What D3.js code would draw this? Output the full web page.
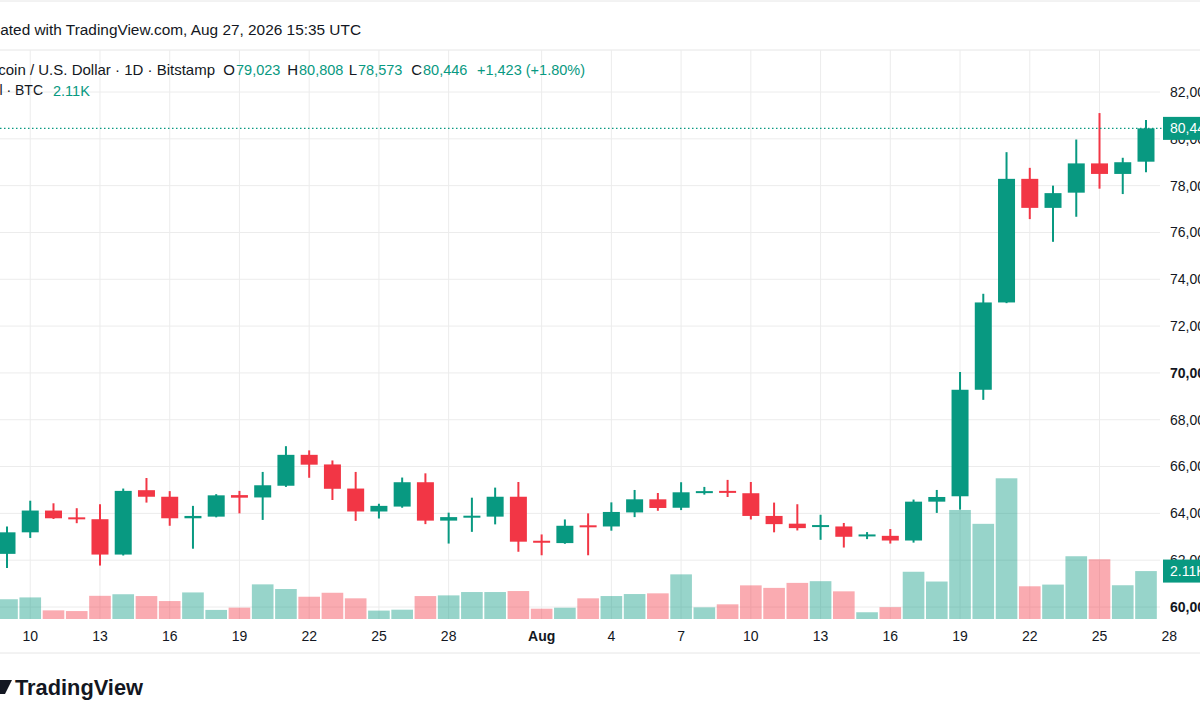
<!DOCTYPE html>
<html>
<head>
<meta charset="utf-8">
<script src="https://cdn.jsdelivr.net/npm/d3@7"></script>
<style>
  body { margin: 0; background: #fff; }
  svg { display: block; font-family: "Liberation Sans", Arial, sans-serif; }
</style>
</head>
<body>
<svg id="chart" width="1200" height="720"></svg>
<script>
// BTC/USD daily candles, Bitstamp
const dates = [
  "2026-07-09","2026-07-10","2026-07-11","2026-07-12","2026-07-13","2026-07-14","2026-07-15",
  "2026-07-16","2026-07-17","2026-07-18","2026-07-19","2026-07-20","2026-07-21","2026-07-22",
  "2026-07-23","2026-07-24","2026-07-25","2026-07-26","2026-07-27","2026-07-28","2026-07-29",
  "2026-07-30","2026-07-31","2026-08-01","2026-08-02","2026-08-03","2026-08-04","2026-08-05",
  "2026-08-06","2026-08-07","2026-08-08","2026-08-09","2026-08-10","2026-08-11","2026-08-12",
  "2026-08-13","2026-08-14","2026-08-15","2026-08-16","2026-08-17","2026-08-18","2026-08-19",
  "2026-08-20","2026-08-21","2026-08-22","2026-08-23","2026-08-24","2026-08-25","2026-08-26",
  "2026-08-27"
];
const opens = [
  62270,63190,64120,63830,63750,62240,64990,64710,63790,63860,64780,64680,65180,66500,
  66090,65060,64080,64290,65330,63690,63860,63860,64710,62830,62730,63490,63440,64040,
  64600,64240,64900,64960,64860,63890,63560,63460,63440,63060,63040,62840,64500,64730,
  69280,73010,78290,77050,77700,78950,78500,79023
];
const highs = [
  63440,64540,64430,64220,64390,65060,65510,64950,64320,64820,64960,65770,66870,66690,
  66260,65770,64410,65530,65710,64030,64670,65100,65340,63100,63740,64000,64470,65000,
  64870,65330,65130,65430,65340,64460,64390,63940,63590,63200,63330,64590,65000,70040,
  73380,79430,78760,78000,79970,81100,79190,80808
];
const lows = [
  61670,62950,63760,63580,61770,62200,64460,63470,62490,63830,64000,63720,65130,65520,
  64570,63680,63780,64240,63540,62710,63210,63530,62360,62210,62700,62210,63260,63840,
  64110,64140,64800,64700,63740,63190,63270,62870,62540,62900,62710,62750,64020,64160,
  68850,72980,76570,75600,76670,77870,77640,78573
];
const closes = [
  63190,64120,63790,63790,62240,64960,64710,63790,63890,64770,64670,65200,66500,66080,
  65050,64080,64320,65330,63690,63840,63900,64710,62790,62790,63470,63460,64060,64600,
  64230,64900,64950,64920,63890,63540,63370,63500,63000,63100,62840,64500,64700,69280,
  73010,78290,77050,77680,78950,78500,79000,80446
];
const volumes = [
  870,950,380,350,1020,1090,1010,790,1170,400,500,1525,1320,980,
  1155,910,370,410,1010,1040,1187,1187,1231,453,497,910,1011,1099,
  1130,1965,514,646,1481,1370,1590,1665,1218,297,520,2080,1650,4800,
  4190,6195,1440,1515,2763,2630,1486,2110
];

const priceTicks = [60000,62000,64000,66000,68000,70000,72000,74000,76000,78000,80000,82000];
const dateTicks = [
  "2026-07-10","2026-07-13","2026-07-16","2026-07-19","2026-07-22","2026-07-25","2026-07-28",
  "2026-08-01","2026-08-04","2026-08-07","2026-08-10","2026-08-13","2026-08-16","2026-08-19",
  "2026-08-22","2026-08-25","2026-08-28"
];

const UP = "#089981";
const DOWN = "#f23645";
const TEXT = "#131722";
const GRID = "#ececec";

const parse = d3.utcParse("%Y-%m-%d");
const bars = dates.map((d, i) => ({
  date: parse(d), o: opens[i], h: highs[i], l: lows[i], c: closes[i], v: volumes[i]
}));

const svg = d3.select("#chart");
const W = 1200, H = 720;
const plotRight = 1160;
const volBase = 619;

svg.append("rect").attr("width", W).attr("height", H).attr("fill", "#fff");

// Scales
const x = d3.scaleUtc()
  .domain([bars[0].date, bars[bars.length - 1].date])
  .range([7, 1146]);

const y = d3.scaleLinear()
  .domain([60000, 82000])
  .range([607, 92]);

const yVol = d3.scaleLinear()
  .domain([0, 7000])
  .range([volBase, 460]);

const step = x(bars[1].date) - x(bars[0].date);

// Frame lines
[1, 50, 653].forEach(ly => {
  svg.append("line")
    .attr("x1", 0).attr("x2", W)
    .attr("y1", ly).attr("y2", ly)
    .attr("stroke", "#e6e6e6");
});

// Grid
const tickDates = dateTicks.map(parse);
svg.append("g")
  .selectAll("line")
  .data(tickDates.filter(d => x(d) < plotRight))
  .join("line")
  .attr("x1", d => x(d)).attr("x2", d => x(d))
  .attr("y1", 50).attr("y2", volBase)
  .attr("stroke", GRID);

svg.append("g")
  .selectAll("line")
  .data(priceTicks)
  .join("line")
  .attr("x1", 0).attr("x2", plotRight)
  .attr("y1", d => y(d)).attr("y2", d => y(d))
  .attr("stroke", GRID);

// Volume
svg.append("g")
  .selectAll("rect")
  .data(bars)
  .join("rect")
  .attr("x", d => x(d.date) - step / 2 + 0.8)
  .attr("width", step - 1.6)
  .attr("y", d => yVol(d.v))
  .attr("height", d => volBase - yVol(d.v))
  .attr("fill", d => d.c >= d.o ? UP : DOWN)
  .attr("fill-opacity", 0.42);

// Candles
const candle = svg.append("g")
  .selectAll("g")
  .data(bars)
  .join("g")
  .attr("fill", d => d.c >= d.o ? UP : DOWN)
  .attr("stroke", d => d.c >= d.o ? UP : DOWN);

candle.append("line")
  .attr("x1", d => x(d.date)).attr("x2", d => x(d.date))
  .attr("y1", d => y(d.h)).attr("y2", d => y(d.l))
  .attr("stroke-width", 2);

candle.append("rect")
  .attr("x", d => x(d.date) - 8.5)
  .attr("width", 17)
  .attr("y", d => y(Math.max(d.o, d.c)))
  .attr("height", d => Math.max(2, Math.abs(y(d.o) - y(d.c))))
  .attr("stroke", "none");

// Price axis labels
svg.append("g")
  .selectAll("text")
  .data(priceTicks)
  .join("text")
  .attr("x", 1170)
  .attr("y", d => y(d))
  .attr("dy", "0.35em")
  .attr("font-size", 14)
  .attr("font-weight", d => (d === 70000 || d === 60000) ? "bold" : "normal")
  .attr("fill", TEXT)
  .text(d => d3.format(",")(d));

// Date axis labels
svg.append("g")
  .selectAll("text")
  .data(tickDates)
  .join("text")
  .attr("x", d => x(d))
  .attr("y", 636)
  .attr("dy", "0.35em")
  .attr("text-anchor", "middle")
  .attr("font-size", 14)
  .attr("font-weight", d => d.getUTCDate() === 1 ? "bold" : "normal")
  .attr("fill", TEXT)
  .text(d => d.getUTCDate() === 1 ? d3.utcFormat("%b")(d) : d.getUTCDate());

// Last price line + labels
const last = bars[bars.length - 1];
svg.append("line")
  .attr("x1", 0).attr("x2", 1163)
  .attr("y1", y(last.c)).attr("y2", y(last.c))
  .attr("stroke", UP)
  .attr("stroke-width", 1.2)
  .attr("stroke-dasharray", "1.5 2.5");

function axisTag(cy, label) {
  svg.append("rect")
    .attr("x", 1163).attr("y", cy - 11.5)
    .attr("width", 50).attr("height", 23)
    .attr("fill", UP);
  svg.append("text")
    .attr("x", 1170).attr("y", cy)
    .attr("dy", "0.35em")
    .attr("font-size", 14)
    .attr("fill", "#fff")
    .text(label);
}
const fmtVol = v => d3.format(".3s")(v).replace("k", "K");
axisTag(y(last.c), d3.format(",")(last.c));
axisTag(yVol(last.v), fmtVol(last.v));

// Header
svg.append("text")
  .attr("x", 361).attr("y", 30)
  .attr("dy", "0.35em")
  .attr("text-anchor", "end")
  .attr("font-size", 15.4)
  .attr("fill", TEXT)
  .text("Created with TradingView.com, Aug 27, 2026 15:35 UTC");

const header = svg.append("g").attr("font-size", 14);
header.append("text")
  .attr("x", 215).attr("y", 69.5).attr("dy", "0.35em")
  .attr("text-anchor", "end").attr("fill", TEXT)
  .attr("font-size", 15)
  .text("Bitcoin / U.S. Dollar · 1D · Bitstamp");

const fmt = d3.format(",");
const change = last.c - last.o;
const ohlc = [
  { k: "O", v: fmt(last.o), x: 236 },
  { k: "H", v: fmt(last.h), x: 299 },
  { k: "L", v: fmt(last.l), x: 358 },
  { k: "C", v: fmt(last.c), x: 423 },
  { k: "", v: `${change >= 0 ? "+" : ""}${fmt(change)} (${change >= 0 ? "+" : ""}${(change / last.o * 100).toFixed(2)}%)`, x: 477 }
];
ohlc.forEach(p => {
  header.append("text")
    .attr("x", p.x - 1).attr("y", 69.5).attr("dy", "0.35em")
    .attr("text-anchor", "end").attr("fill", TEXT)
    .attr("font-size", 15)
    .text(p.k);
  header.append("text")
    .attr("x", p.x).attr("y", 69.5).attr("dy", "0.35em")
    .attr("fill", UP)
    .attr("font-size", 14.5)
    .text(p.v);
});

header.append("text")
  .attr("x", 43).attr("y", 90.5).attr("dy", "0.35em")
  .attr("text-anchor", "end").attr("fill", TEXT)
  .attr("font-size", 14)
  .text("Vol · BTC");
header.append("text")
  .attr("x", 53).attr("y", 90.5).attr("dy", "0.35em")
  .attr("fill", UP)
  .attr("font-size", 14.5)
  .text(fmtVol(last.v));

// Footer logo
svg.append("path")
  .attr("d", "M-4,680 L12,680 L5,694 L-4,694 Z")
  .attr("fill", TEXT);
svg.append("text")
  .attr("x", 15).attr("y", 687)
  .attr("dy", "0.35em")
  .attr("font-size", 22)
  .attr("font-weight", "bold")
  .attr("textLength", 128)
  .attr("lengthAdjust", "spacingAndGlyphs")
  .attr("fill", TEXT)
  .text("TradingView");
</script>
</body>
</html>
